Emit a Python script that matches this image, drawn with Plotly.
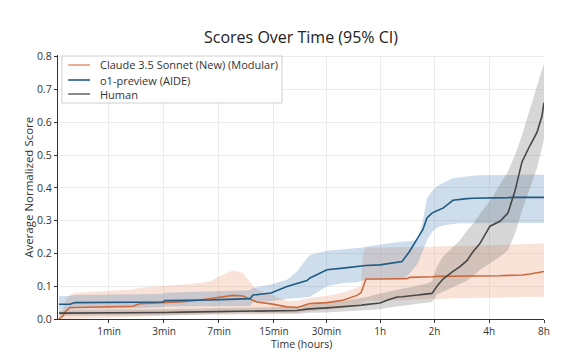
import plotly.graph_objects as go
import math

# Shared time grid (minutes since start)
time_min = [0.065, 0.12, 0.163, 0.223, 0.303, 1.71, 1.96, 2.95, 3.05, 4.08, 5.30, 6.14, 7.10, 8.55,
            9.82, 10.83, 11.28, 11.91, 14.4, 17.85, 20.4, 23.25, 24.2, 30.2, 37.2, 44.5, 46.9, 48.1,
            50.0, 59.9, 65.5, 74.4, 79.3, 84.5, 87.8, 97.2, 103.6, 109, 116.2, 123.8, 133.6, 151.7,
            165.8, 181.1, 195.5, 213.5, 242.4, 275.1, 304.5, 332.6, 363.3, 402, 439.2, 467.8, 480]

claude_mean = [0.0, 0.01, 0.025, 0.035, 0.035, 0.039, 0.047, 0.05, 0.05, 0.053, 0.058, 0.062, 0.065, 0.072,
               0.07, 0.062, 0.057, 0.052, 0.046, 0.037, 0.035, 0.044, 0.047, 0.05, 0.057, 0.072, 0.08, 0.095,
               0.122, 0.122, 0.122, 0.122, 0.122, 0.123, 0.127, 0.127, 0.128, 0.128, 0.129, 0.13, 0.13, 0.13,
               0.131, 0.131, 0.131, 0.132, 0.132, 0.132, 0.133, 0.133, 0.134, 0.137, 0.142, 0.145, 0.145]
claude_low = [0.0, 0.0, 0.0, 0.0, 0.0, 0.005, 0.008, 0.01, 0.01, 0.012, 0.014, 0.015, 0.017, 0.02,
              0.02, 0.02, 0.02, 0.02, 0.02, 0.018, 0.018, 0.023, 0.025, 0.028, 0.032, 0.04, 0.045, 0.05,
              0.055, 0.056, 0.056, 0.057, 0.057, 0.057, 0.058, 0.06, 0.06, 0.06, 0.061, 0.062, 0.062, 0.063,
              0.063, 0.064, 0.064, 0.065, 0.065, 0.065, 0.066, 0.066, 0.066, 0.067, 0.068, 0.068, 0.068]
claude_high = [0.005, 0.03, 0.06, 0.075, 0.08, 0.09, 0.095, 0.1, 0.1, 0.105, 0.11, 0.115, 0.13, 0.149,
               0.14, 0.112, 0.1, 0.09, 0.075, 0.056, 0.055, 0.062, 0.065, 0.07, 0.08, 0.095, 0.1, 0.2,
               0.218, 0.218, 0.218, 0.219, 0.219, 0.219, 0.22, 0.22, 0.22, 0.22, 0.22, 0.221, 0.221, 0.222,
               0.222, 0.223, 0.223, 0.224, 0.225, 0.225, 0.226, 0.226, 0.227, 0.228, 0.229, 0.23, 0.23]

o1_mean = [0.045, 0.045, 0.045, 0.045, 0.05, 0.05, 0.05, 0.052, 0.056, 0.056, 0.057, 0.058, 0.059, 0.06,
           0.061, 0.062, 0.073, 0.074, 0.079, 0.099, 0.108, 0.117, 0.125, 0.15, 0.155, 0.16, 0.162, 0.163,
           0.163, 0.165, 0.168, 0.172, 0.175, 0.195, 0.208, 0.248, 0.273, 0.308, 0.323, 0.33, 0.338, 0.362,
           0.365, 0.367, 0.368, 0.368, 0.369, 0.37, 0.37, 0.371, 0.371, 0.371, 0.371, 0.371, 0.371]
o1_low = [0.03, 0.03, 0.03, 0.03, 0.032, 0.033, 0.034, 0.036, 0.038, 0.038, 0.039, 0.04, 0.04, 0.04,
          0.04, 0.04, 0.05, 0.05, 0.055, 0.062, 0.064, 0.066, 0.068, 0.1, 0.11, 0.112, 0.115, 0.118,
          0.12, 0.122, 0.123, 0.124, 0.125, 0.13, 0.14, 0.17, 0.21, 0.24, 0.265, 0.278, 0.285, 0.29,
          0.292, 0.292, 0.293, 0.293, 0.293, 0.293, 0.293, 0.293, 0.293, 0.293, 0.293, 0.293, 0.293]
o1_high = [0.07, 0.07, 0.07, 0.07, 0.073, 0.074, 0.075, 0.076, 0.08, 0.081, 0.082, 0.083, 0.085, 0.086,
           0.087, 0.088, 0.095, 0.097, 0.105, 0.12, 0.145, 0.185, 0.195, 0.208, 0.212, 0.215, 0.217, 0.218,
           0.22, 0.228, 0.23, 0.234, 0.236, 0.237, 0.238, 0.24, 0.3, 0.368, 0.39, 0.405, 0.415, 0.429,
           0.432, 0.435, 0.437, 0.438, 0.439, 0.44, 0.44, 0.44, 0.44, 0.44, 0.44, 0.44, 0.44]

human_mean = [0.018, 0.018, 0.018, 0.018, 0.019, 0.019, 0.019, 0.02, 0.02, 0.021, 0.022, 0.022, 0.023, 0.023,
              0.024, 0.024, 0.024, 0.024, 0.025, 0.025, 0.026, 0.03, 0.031, 0.034, 0.037, 0.041, 0.042, 0.043,
              0.044, 0.049, 0.057, 0.067, 0.068, 0.069, 0.07, 0.073, 0.075, 0.076, 0.078, 0.1, 0.122, 0.145,
              0.16, 0.178, 0.205, 0.23, 0.283, 0.298, 0.323, 0.39, 0.479, 0.529, 0.569, 0.619, 0.66]
human_low = [0.01, 0.01, 0.01, 0.01, 0.01, 0.011, 0.011, 0.011, 0.011, 0.012, 0.013, 0.013, 0.013, 0.014,
             0.014, 0.014, 0.014, 0.014, 0.015, 0.015, 0.016, 0.018, 0.019, 0.02, 0.022, 0.025, 0.026, 0.027,
             0.027, 0.03, 0.034, 0.04, 0.042, 0.044, 0.045, 0.047, 0.049, 0.05, 0.052, 0.075, 0.085, 0.097,
             0.107, 0.117, 0.13, 0.15, 0.17, 0.19, 0.21, 0.26, 0.33, 0.40, 0.46, 0.52, 0.55]
human_high = [0.028, 0.028, 0.028, 0.028, 0.029, 0.029, 0.029, 0.03, 0.03, 0.031, 0.032, 0.032, 0.033, 0.033,
              0.034, 0.034, 0.034, 0.034, 0.035, 0.036, 0.037, 0.042, 0.043, 0.048, 0.055, 0.062, 0.064, 0.065,
              0.066, 0.078, 0.083, 0.09, 0.093, 0.095, 0.097, 0.102, 0.105, 0.108, 0.115, 0.16, 0.19, 0.22,
              0.24, 0.27, 0.29, 0.32, 0.36, 0.41, 0.45, 0.5, 0.56, 0.64, 0.71, 0.76, 0.78]

tick_minutes = [1, 3, 7, 15, 30, 60, 120, 240, 480]
tick_labels = ["1min", "3min", "7min", "15min", "30min", "1h", "2h", "4h", "8h"]
y_ticks = [0, 0.1, 0.2, 0.3, 0.4, 0.5, 0.6, 0.7, 0.8]

series_names = ["Claude 3.5 Sonnet (New) (Modular)", "o1-preview (AIDE)", "Human"]
series_means = [claude_mean, o1_mean, human_mean]
series_lows = [claude_low, o1_low, human_low]
series_highs = [claude_high, o1_high, human_high]
line_colors = ["#cc6a3f", "#1f5a85", "#474747"]
fill_colors = ["rgba(232,150,110,0.28)", "rgba(70,130,180,0.27)", "rgba(110,110,110,0.28)"]
legend_line_colors = ["#e29a78", "#1f5a85", "#6e6e6e"]

x = [t + 1 for t in time_min]  # log2(t+1)-style time axis
xt = [t + 1 for t in tick_minutes]

fig = go.Figure()
for lo, hi, fc in zip(series_lows, series_highs, fill_colors):
    fig.add_trace(go.Scatter(
        x=x + x[::-1], y=hi + lo[::-1], fill="toself", fillcolor=fc,
        line=dict(width=0), mode="lines", hoverinfo="skip", showlegend=False))
for name, mean, lc in zip(series_names, series_means, line_colors):
    fig.add_trace(go.Scatter(x=x, y=mean, mode="lines", name=name,
                             line=dict(color=lc, width=1.6), showlegend=False))

FONT = "Open Sans"
TXT = "#333333"
M_T, M_B = 55, 33
plot_h = 352 - M_T - M_B

def py(px):
    """pixel row -> paper y (plot-area relative)"""
    return (352 - M_B - px) / plot_h

# Compact legend box (matplotlib-style)
shapes = [dict(type="rect", xref="paper", yref="paper", x0=0.008, x1=0.461, y0=py(103), y1=py(56),
               line=dict(color="#d0d0d0", width=1), fillcolor="rgba(255,255,255,0.92)", layer="above")]
annotations = []
row_px = [65, 80, 94]
for name, lc, rp in zip(series_names, legend_line_colors, row_px):
    ry = py(rp)
    shapes.append(dict(type="line", xref="paper", yref="paper", x0=0.021, x1=0.066, y0=ry, y1=ry,
                       line=dict(color=lc, width=1.6), layer="above"))
    annotations.append(dict(text=name, xref="paper", yref="paper", x=0.082, y=ry, xanchor="left",
                            yanchor="middle", showarrow=False, font=dict(family=FONT, size=11, color=TXT)))
annotations.append(dict(text="Time (hours)", xref="paper", yref="paper", x=0.5, y=py(351.5),
                        xanchor="center", yanchor="bottom", showarrow=False, borderpad=0,
                        font=dict(family=FONT, size=10.5, color=TXT)))
annotations.append(dict(text="Average Normalized Score", xref="paper", yref="paper", x=-0.062, y=0.5,
                        xanchor="center", yanchor="middle", textangle=-90, showarrow=False,
                        font=dict(family=FONT, size=11.5, color=TXT)))

fig.update_layout(
    width=569, height=352,
    margin=dict(l=58, r=25, t=M_T, b=M_B),
    paper_bgcolor="white", plot_bgcolor="white",
    font=dict(family=FONT, size=11, color=TXT),
    title=dict(text="Scores Over Time (95% CI)", x=0.5, xref="paper", xanchor="center",
               y=1 - 37 / 352, yref="container", yanchor="middle",
               font=dict(family=FONT, size=16, color="#222222")),
    showlegend=False,
    shapes=shapes, annotations=annotations,
)
fig.update_xaxes(
    type="log", range=[math.log10(2 ** 0.073), math.log10(481)],
    tickvals=xt, ticktext=tick_labels,
    showgrid=True, gridcolor="#ececec", gridwidth=1,
    showline=True, linecolor="#333333", linewidth=1.2,
    ticks="outside", ticklen=3, tickcolor="#333333",
    tickfont=dict(size=10),
    zeroline=False, automargin=False,
)
fig.update_yaxes(
    range=[0, 0.805], tickvals=y_ticks, tickformat=".1f",
    showgrid=True, gridcolor="#ececec", gridwidth=1,
    showline=True, linecolor="#333333", linewidth=1.2,
    ticks="outside", ticklen=3, tickcolor="#333333",
    tickfont=dict(size=10.5),
    zeroline=False, automargin=False,
)
fig.write_html("out.html")
